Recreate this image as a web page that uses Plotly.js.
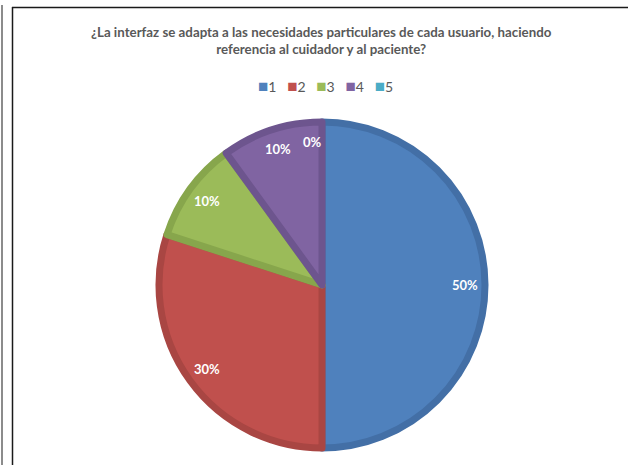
<!DOCTYPE html>
<html>
<head>
<meta charset="utf-8">
<script src="https://cdn.plot.ly/plotly-3.0.1.min.js"></script>
<style>
  html, body { margin: 0; padding: 0; background: #ffffff; }
  #chart { width: 628px; height: 465px; }
</style>
</head>
<body>
<div id="chart"></div>
<script>
// Answer options and share of responses (%)
const categories = ['1', '2', '3', '4', '5'];
const shares = [50, 30, 10, 10, 0];
const fillColors = ['#4F81BD', '#C0504D', '#9BBB59', '#8064A2', '#4BACC6'];
const edgeColors = ['#436FA6', '#A94643', '#87A64C', '#6D558E', '#3E97AE'];

const titleText = '¿La interfaz se adapta a las necesidades particulares de cada usuario, haciendo<br>referencia al cuidador y al paciente?';

const W = 628, H = 465;
const cx = 322, cy = 285, r = 163;
const FONT = 'Lato, "Open Sans", sans-serif';

const px = v => v / W;
const py = v => 1 - v / H;

const pie = {
  type: 'pie',
  labels: categories,
  values: shares,
  sort: false,
  direction: 'clockwise',
  rotation: 0,
  hole: 0,
  domain: { x: [px(cx - r), px(cx + r)], y: [py(cy + r), py(cy - r)] },
  marker: {
    colors: fillColors,
    line: { color: edgeColors, width: shares.map(v => (v > 0 ? 7 : 0)) }
  },
  textinfo: 'none',
  hoverinfo: 'none',
  showlegend: false
};

// Percentage labels placed near the rim, at the middle angle of each slice
const total = shares.reduce((a, b) => a + b, 0);
const labelRadius = 0.86 * (r + 3);
const annotations = [];
let cum = 0;
shares.forEach((v, i) => {
  const mid = (cum + v / 2) / total * 2 * Math.PI; // clockwise from 12 o'clock
  cum += v;
  const lx = cx + labelRadius * Math.sin(mid) - (v === 0 ? 9 : 0);
  const ly = cy - labelRadius * Math.cos(mid);
  annotations.push({
    xref: 'paper', yref: 'paper', x: px(lx), y: py(ly),
    xanchor: 'center', yanchor: 'middle', showarrow: false,
    text: '<b>' + Math.round(v / total * 100) + '%</b>',
    font: { family: FONT, size: 13, color: '#ffffff' }
  });
});

// Legend row: coloured squares followed by the category
const legendText = categories.map((c, i) =>
  '<span style="color:' + fillColors[i] + ';font-size:17px">■</span>' + c
).join('   ');

annotations.push({
  xref: 'paper', yref: 'paper', x: px(325), y: py(85),
  xanchor: 'center', yanchor: 'middle', showarrow: false,
  text: legendText,
  font: { family: FONT, size: 14, color: '#595959' }
});

// Title, two centred lines
annotations.push({
  xref: 'paper', yref: 'paper', x: px(321), y: py(40),
  xanchor: 'center', yanchor: 'middle', showarrow: false,
  text: '<b>' + titleText + '</b>',
  font: { family: FONT, size: 13.3, color: '#595959' }
});

// Frame lines around the chart area
const shapes = [
  { type: 'line', xref: 'paper', yref: 'paper', x0: px(2), x1: px(2), y0: py(5), y1: 0,
    line: { color: '#8c8c8c', width: 2 } },
  { type: 'line', xref: 'paper', yref: 'paper', x0: px(12.5), x1: px(12.5), y0: py(7), y1: 0,
    line: { color: '#1a1a1a', width: 1.5 } },
  { type: 'line', xref: 'paper', yref: 'paper', x0: px(12), x1: 1, y0: py(7.5), y1: py(7.5),
    line: { color: '#1a1a1a', width: 1.5 } }
];

const layout = {
  width: W, height: H,
  margin: { l: 0, r: 0, t: 0, b: 0 },
  paper_bgcolor: '#ffffff',
  plot_bgcolor: '#ffffff',
  showlegend: false,
  annotations: annotations,
  shapes: shapes
};

Plotly.newPlot('chart', [pie], layout, { displayModeBar: false, staticPlot: true });
</script>
</body>
</html>
